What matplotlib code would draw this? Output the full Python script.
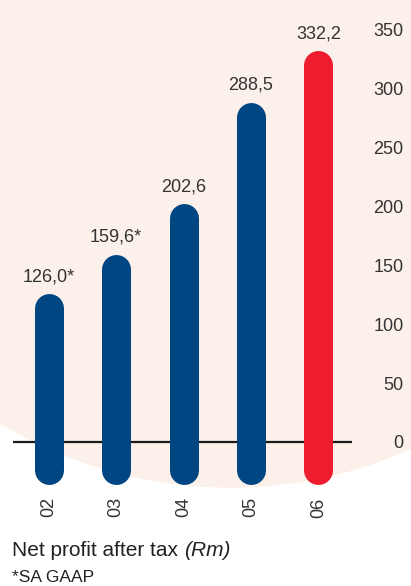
import matplotlib.pyplot as plt
from matplotlib.patches import Ellipse

plt.rcParams['font.family'] = ['Liberation Sans', 'DejaVu Sans']

# Data
years = ['02', '03', '04', '05', '06']
profit = [126.0, 159.6, 202.6, 288.5, 332.2]
sa_gaap = [True, True, False, False, False]   # marked with * (SA GAAP)
yticks = [0, 50, 100, 150, 200, 250, 300, 350]

blue = '#004682'
red = '#ed1c2e'
peach = '#fbf1ea'
txt = '#333333'

W, H = 411, 586
fig = plt.figure(figsize=(W / 100, H / 100), dpi=100)
fig.patch.set_facecolor('white')

# big pale circle behind the chart
fig.add_artist(Ellipse((230 / W, 1 - 42 / H), 2 * 445 / W, 2 * 445 / H,
                       transform=fig.transFigure, color=peach, zorder=0))

ax = fig.add_axes([13 / W, 97 / H, (352 - 13) / W, 465 / H])
ax.set_facecolor('none')
ax.set_xlim(-0.53, 4.5)
ax.set_ylim(-40, 355)

px_per_unit = 465 / 395
bar_px = 29
cap = bar_px / 2 / px_per_unit
floor = -36

ax.axhline(0, color='#1a1a1a', lw=1.6, zorder=1)

for i, v in enumerate(profit):
    c = red if i == len(profit) - 1 else blue
    ax.plot([i, i], [floor + cap, v - cap], color=c, lw=bar_px * 0.72,
            solid_capstyle='round', zorder=2)
    lab = f'{v:.1f}'.replace('.', ',') + ('*' if sa_gaap[i] else '')
    ax.annotate(lab, (i, v), xytext=(0, 6), textcoords='offset points',
                ha='center', va='bottom', fontsize=13, color=txt)

ax.set_xticks(range(len(years)), years, rotation=90, fontsize=13, color=txt)
ax.tick_params(axis='x', length=0, pad=6)

ax.yaxis.tick_right()
ax.set_yticks(yticks, [str(t) for t in yticks], fontsize=13, color=txt)
ax.tick_params(axis='y', length=0, pad=37)
for t in ax.get_yticklabels():
    t.set_ha('right')

for s in ax.spines.values():
    s.set_visible(False)

t1 = fig.text(12 / W, 1 - 560 / H, 'Net profit after tax ', fontsize=15,
              color='#222222', va='bottom')
ax.annotate('(Rm)', xy=(1, 0), xycoords=t1, fontsize=15, style='italic',
            color='#222222', va='bottom', ha='left', annotation_clip=False)
fig.text(12 / W, 1 - 585 / H, '*SA GAAP', fontsize=12.5, color='#222222',
         va='bottom')

fig.savefig('out.png', dpi=100)
